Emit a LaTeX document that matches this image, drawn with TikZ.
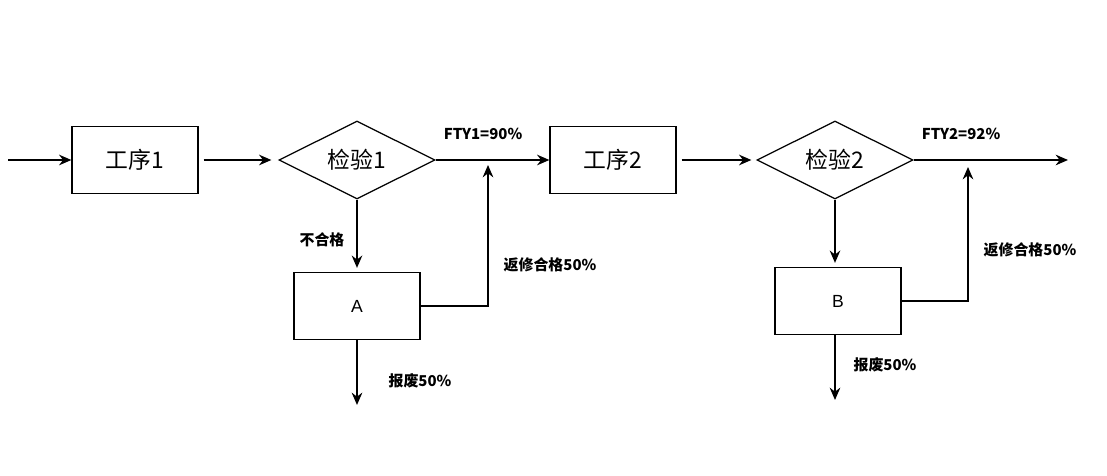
\documentclass[tikz,border=0pt]{standalone}
\usepackage{fontspec}
\setmainfont{Liberation Sans}
\newfontfamily\cjk{Noto Sans CJK SC}
\usetikzlibrary{shapes.geometric,arrows.meta}
\tikzset{
  proc/.style={draw, line width=0.7pt, minimum width=126*0.02cm, minimum height=67*0.02cm, font=\cjk\fontsize{13}{15}\selectfont},
  chk/.style={draw, diamond, aspect=2.1, line width=0.7pt, minimum width=156*0.02cm, minimum height=78*0.02cm, inner sep=0pt, font=\cjk\fontsize{13}{15}\selectfont},
  flow/.style={line width=1.1pt, -{Stealth[length=7pt,width=6pt]}},
  lab/.style={font=\cjk\bfseries\fontsize{8.5}{10}\selectfont}
}
\begin{document}
\begin{tikzpicture}[x=0.02cm,y=-0.02cm]
  \useasboundingbox (0,0) rectangle (1107,476);
  \node[proc] (p1) at (135,160) {工序1};
  \node[chk] (c1) at (357,160) {检验1};
  \node[proc] (p2) at (613,160) {工序2};
  \node[chk] (c2) at (835,160) {检验2};
  \node[proc, font=\fontsize{10}{12}\selectfont] (a) at (357,306) {A};
  \node[proc, font=\fontsize{10}{12}\selectfont] (b) at (838,301) {B};
  \coordinate (in) at (8,160);
  \coordinate (out) at (1068,160);
  \coordinate (s1) at (357,405);
  \coordinate (s2) at (835,400);
  \coordinate (r1) at (488,160);
  \coordinate (r2) at (968,160);
  \draw[flow] (in) -- (p1);
  \draw[flow] ([xshift=5*0.02cm]p1.east) -- ([xshift=-7*0.02cm]c1.west);
  \draw[flow] (c1) -- (p2);
  \draw[flow] ([xshift=5*0.02cm]p2.east) -- ([xshift=-5*0.02cm]c2.west);
  \draw[flow] (c2.east) -- (out);
  \draw[flow] (c1.south) -- ([yshift=4*0.02cm]a.north);
  \draw[flow] (c2.south) -- ([yshift=4*0.02cm]b.north -| c2.south);
  \draw[flow] (a.east) -| ([yshift=-5*0.02cm]r1);
  \draw[flow] (b.east) -| ([yshift=-7*0.02cm]r2);
  \draw[flow] (a.south) -- (s1);
  \draw[flow] (b.south -| c2.south) -- (s2);
  \node[lab] at (483,134) {FTY1=90\%};
  \node[lab] at (961,134) {FTY2=92\%};
  \node[lab] at (322,240) {不合格};
  \node[lab] at (550,265) {返修合格50\%};
  \node[lab] at (1030,250) {返修合格50\%};
  \node[lab] at (420,381) {报废50\%};
  \node[lab] at (885,365) {报废50\%};
\end{tikzpicture}
\end{document}
